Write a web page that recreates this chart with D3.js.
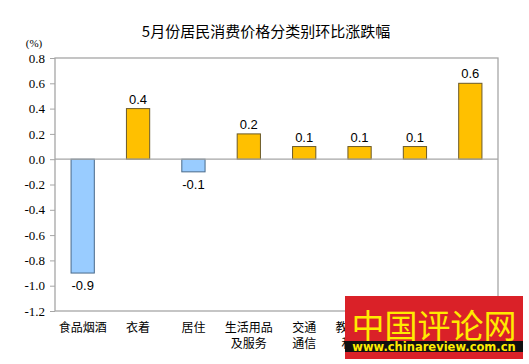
<!DOCTYPE html>
<html>
<head>
<meta charset="utf-8">
<script src="https://cdn.jsdelivr.net/npm/d3@7"></script>
<style>
  body { margin: 0; background: #fff; }
  svg { display: block; }
</style>
</head>
<body>
<svg id="chart" width="529" height="364"></svg>
<script>
// 分类与数值
const categories = ['食品烟酒', '衣着', '居住', '生活用品及服务', '交通通信', '教育文化和娱乐', '医疗保健', '其他用品和服务'];
const labelLines = [['食品烟酒'], ['衣着'], ['居住'], ['生活用品', '及服务'], ['交通', '通信'], ['教育文化', '和娱乐'], ['医疗', '保健'], ['其他用品', '和服务']];
const values = [-0.9, 0.4, -0.1, 0.2, 0.1, 0.1, 0.1, 0.6];
const yTicks = [0.8, 0.6, 0.4, 0.2, 0.0, -0.2, -0.4, -0.6, -0.8, -1.0, -1.2];

const margin = { left: 55, top: 58, right: 31, bottom: 53 };
const W = 529, H = 364;

const svg = d3.select('#chart');

const x = d3.scaleBand().domain(categories)
  .range([margin.left, W - margin.right]).paddingInner(0.58).paddingOuter(0.29);
const y = d3.scaleLinear().domain([-1.2, 0.8]).range([H - margin.bottom, margin.top]);

// 标题
svg.append('text')
  .attr('x', 266).attr('y', 37)
  .attr('text-anchor', 'middle')
  .attr('font-family', '"Noto Sans CJK SC", sans-serif')
  .attr('font-size', 15)
  .attr('fill', '#000')
  .text('5月份居民消费价格分类别环比涨跌幅');

svg.append('text')
  .attr('x', 34).attr('y', 47)
  .attr('text-anchor', 'middle')
  .attr('font-family', '"Liberation Serif", serif')
  .attr('font-size', 11)
  .text('(%)');

// 绘图区边框
svg.append('rect')
  .attr('x', margin.left).attr('y', margin.top)
  .attr('width', W - margin.right - margin.left)
  .attr('height', H - margin.bottom - margin.top)
  .attr('fill', 'none').attr('stroke', '#a6a6a6').attr('stroke-width', 1.3);

// y 轴
const yAxis = d3.axisLeft(y).tickValues(yTicks).tickSize(5).tickPadding(5)
  .tickFormat(d3.format('.1f'));
const gy = svg.append('g').attr('transform', `translate(${margin.left},0)`).call(yAxis);
gy.select('.domain').remove();
gy.selectAll('.tick line').attr('stroke', '#a6a6a6');
gy.selectAll('.tick text')
  .attr('font-family', '"Liberation Serif", serif')
  .attr('font-size', 13)
  .attr('fill', '#000')
  .text(d => d3.format('.1f')(d).replace('−', '-'));

// 柱子
svg.append('g').selectAll('rect')
  .data(values)
  .join('rect')
  .attr('x', (d, i) => x(categories[i]))
  .attr('width', x.bandwidth())
  .attr('y', d => y(Math.max(0, d)))
  .attr('height', d => Math.abs(y(d) - y(0)))
  .attr('fill', d => d < 0 ? '#99ccff' : '#ffc000')
  .attr('stroke', d => d < 0 ? '#4a6a8a' : '#6b5a2a')
  .attr('stroke-width', 1);

// 零线
svg.append('line')
  .attr('x1', margin.left).attr('x2', W - margin.right)
  .attr('y1', y(0)).attr('y2', y(0))
  .attr('stroke', '#a6a6a6').attr('stroke-width', 1.3);

// 数值标签
svg.append('g').selectAll('text')
  .data(values)
  .join('text')
  .attr('x', (d, i) => x(categories[i]) + x.bandwidth() / 2)
  .attr('y', d => d < 0 ? y(d) + 17 : y(d) - 5)
  .attr('text-anchor', 'middle')
  .attr('font-family', '"Liberation Sans", Arial, sans-serif')
  .attr('font-size', 13)
  .attr('fill', '#000')
  .text(d => d3.format('.1f')(d).replace('−', '-'));

// 分类标签
const gx = svg.append('g');
labelLines.forEach((lines, i) => {
  const cx = x(categories[i]) + x.bandwidth() / 2;
  lines.forEach((t, j) => {
    gx.append('text')
      .attr('x', cx).attr('y', 332 + j * 16)
      .attr('text-anchor', 'middle')
      .attr('font-family', '"Noto Sans CJK SC", sans-serif')
      .attr('font-size', 12)
      .attr('fill', '#000')
      .text(t);
  });
});

// 水印
const wm = svg.append('g');
wm.append('rect').attr('x', 345).attr('y', 296).attr('width', 178).attr('height', 63).attr('fill', '#da2128');
wm.append('rect').attr('x', 345).attr('y', 341).attr('width', 178).attr('height', 11).attr('fill', '#111');
wm.append('text')
  .attr('x', 434).attr('y', 338)
  .attr('text-anchor', 'middle')
  .attr('font-family', '"Noto Sans CJK SC", sans-serif')
  .attr('font-size', 33)
  .attr('fill', '#ffeb00')
  .text('中国评论网');
wm.append('text')
  .attr('x', 434).attr('y', 351)
  .attr('text-anchor', 'middle')
  .attr('font-family', '"DejaVu Sans", sans-serif')
  .attr('font-weight', 'bold')
  .attr('font-size', 11.5)
  .attr('fill', '#ffeb00')
  .text('www.chinareview.com.cn');
</script>
</body>
</html>
